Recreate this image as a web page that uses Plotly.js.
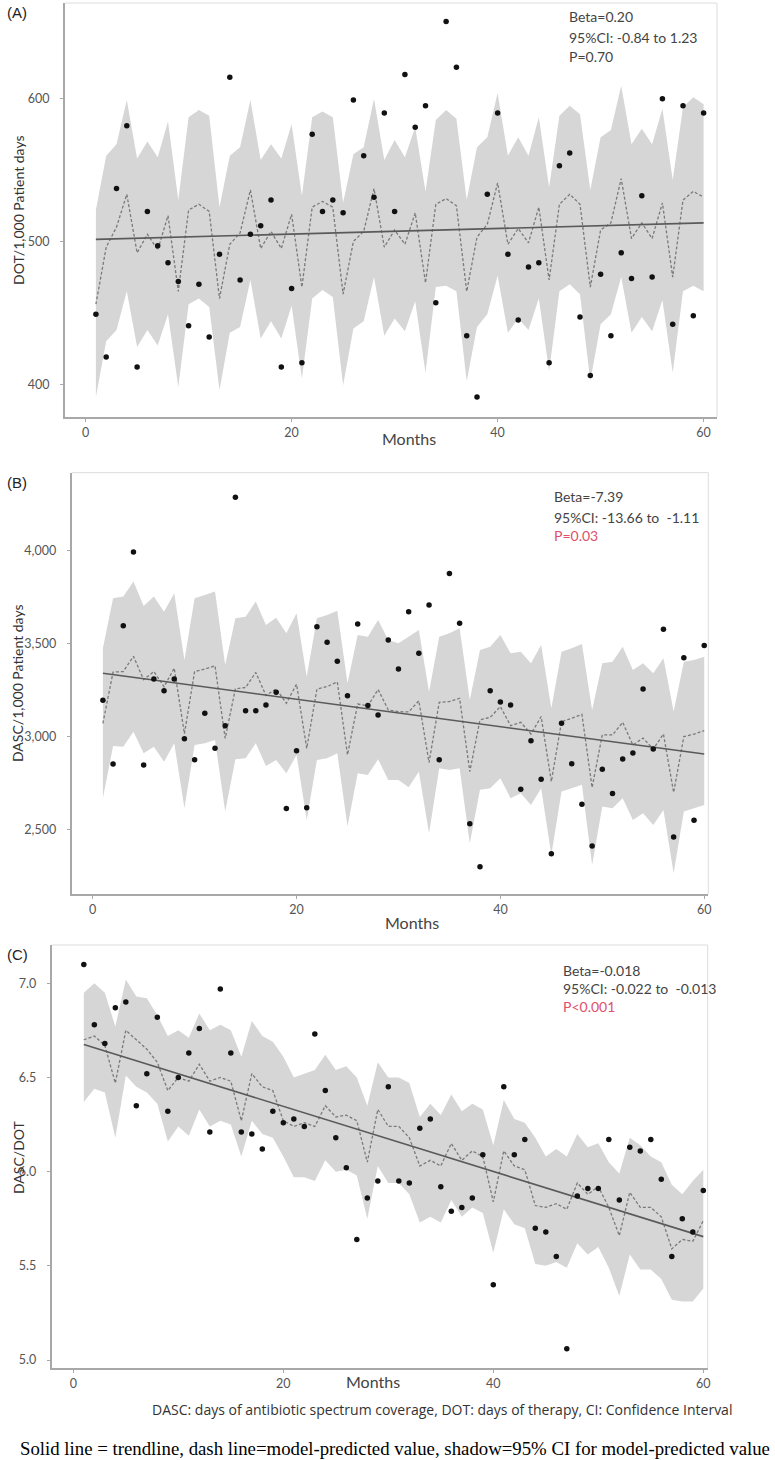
<!DOCTYPE html>
<html><head><meta charset="utf-8">
<script src="https://cdn.plot.ly/plotly-3.0.1.min.js"></script>
<style>html,body{margin:0;padding:0;background:#fff}</style>
</head><body><div id="chart" style="width:775px;height:1460px"></div>
<script>
// ---------- data ----------
const months = [1,2,3,4,5,6,7,8,9,10,11,12,13,14,15,16,17,18,19,20,21,22,23,24,25,26,27,28,29,30,
  31,32,33,34,35,36,37,38,39,40,41,42,43,44,45,46,47,48,49,50,51,52,53,54,55,56,57,58,59,60];
const trendMonths = [1, 60];
const xTicks = [0, 20, 40, 60];

// Panel A: DOT/1,000 patient days
const A_obs = [449,419,537,581,412,521,497,485,472,441,470,433,491,615,473,505,511,529,412,467,
  415,575,521,529,520,599,560,531,590,521,617,580,595,457,654,622,434,391,533,590,
  491,445,482,485,415,553,562,447,406,477,434,492,474,532,475,600,442,595,448,590];
const A_pred = [456,496,510,533,492,505,494,518,465,522,526,521,460,498,506,536,495,507,495,519,
  468,524,528,524,463,500,507,537,496,508,498,520,471,526,530,525,465,503,512,541,
  498,509,499,524,473,526,533,526,468,508,513,544,502,513,502,527,475,529,535,531];
const A_upper = [522,560,568,599,558,570,559,584,529,587,592,588,524,560,566,599,557,568,558,582,
  532,587,591,587,527,561,566,600,557,571,559,580,535,585,592,586,529,566,573,604,
  560,573,560,587,538,588,595,589,536,573,578,609,568,579,568,593,543,594,601,596];
const A_lower = [391,430,438,465,426,438,427,449,398,456,460,454,396,436,440,473,432,444,432,455,
  404,460,466,461,399,439,444,475,434,446,437,458,408,468,469,465,402,440,449,476,
  436,446,438,460,409,465,470,463,402,442,449,475,436,447,437,459,408,465,469,465];
const A_trend = [501.4, 513.0];
const A_yTicks = [400, 500, 600];
const A_yText = ['400', '500', '600'];
const A_stats = ['Beta=0.20', '95%CI: -0.84 to 1.23', 'P=0.70'];

// Panel B: DASC/1,000 patient days
const B_obs = [3195,2852,3597,3995,2846,3310,3247,3310,2987,2875,3125,2936,3058,4290,3139,3139,3170,3238,2611,2923,
  2616,3592,3508,3405,3220,3606,3167,3116,3520,3364,3673,3448,3709,2875,3878,3610,2530,2298,3247,3186,
  3170,2715,2977,2769,2367,3071,2853,2634,2410,2823,2692,2879,2911,3256,2933,3578,2458,3425,2548,3490];
const B_pred = [3071,3347,3350,3432,3306,3350,3268,3368,3015,3350,3363,3381,2990,3257,3264,3345,3221,3257,3179,3282,
  2936,3255,3269,3294,2901,3175,3165,3253,3143,3134,3132,3192,2860,3184,3188,3206,2811,3089,3103,3161,
  3058,3076,3013,3107,2757,3080,3098,3119,2725,3009,3008,3076,2954,2991,2932,3013,2698,2999,3013,3031];
const B_upper = [3475,3745,3754,3835,3703,3754,3673,3772,3412,3745,3763,3781,3385,3637,3646,3727,3601,3640,3556,3664,
  3322,3637,3655,3678,3287,3547,3538,3628,3520,3502,3538,3574,3241,3538,3556,3583,3197,3466,3484,3547,
  3448,3457,3395,3493,3152,3457,3475,3499,3143,3395,3403,3484,3358,3395,3341,3422,3134,3403,3412,3430];
const B_lower = [2667,2949,2945,3026,2909,2945,2864,2963,2613,2954,2963,2981,2595,2877,2882,2963,2841,2873,2802,2900,
  2550,2873,2882,2909,2514,2802,2792,2877,2765,2765,2726,2810,2478,2829,2819,2829,2424,2712,2721,2775,
  2667,2694,2631,2721,2361,2703,2721,2739,2307,2622,2613,2667,2550,2586,2523,2604,2262,2595,2613,2631];
const B_trend = [3341, 2905];
const B_yTicks = [2500, 3000, 3500, 4000];
const B_yText = ['2,500', '3,000', '3,500', '4,000'];
const B_stats = ['Beta=-7.39', '95%CI: -13.66 to  -1.11', 'P=0.03'];

// Panel C: DASC/DOT
const C_obs = [7.10,6.78,6.68,6.87,6.90,6.35,6.52,6.82,6.32,6.50,6.63,6.76,6.21,6.97,6.63,6.21,6.20,6.12,6.32,6.26,
  6.28,6.24,6.73,6.43,6.18,6.02,5.64,5.86,5.95,6.45,5.95,5.94,6.23,6.28,5.92,5.79,5.81,5.86,6.09,5.40,
  6.45,6.09,6.17,5.70,5.68,5.55,5.06,5.87,5.91,5.91,6.17,5.85,6.13,6.11,6.17,5.96,5.55,5.75,5.68,5.90];
const C_pred = [6.70,6.72,6.67,6.47,6.75,6.70,6.65,6.58,6.43,6.50,6.48,6.57,6.48,6.50,6.48,6.27,6.52,6.45,6.43,6.27,
  6.24,6.26,6.24,6.35,6.29,6.30,6.27,6.05,6.33,6.24,6.24,6.18,6.03,6.06,6.03,6.15,6.06,6.11,6.08,5.84,
  6.11,6.03,6.01,5.82,5.81,5.83,5.80,5.94,5.88,5.92,5.81,5.66,5.89,5.81,5.81,5.76,5.59,5.64,5.63,5.74];
const C_upper = [6.95,7.00,6.95,6.77,7.02,6.93,6.92,6.83,6.72,6.75,6.71,6.84,6.75,6.78,6.75,6.61,6.80,6.72,6.69,6.61,
  6.50,6.52,6.54,6.62,6.54,6.56,6.50,6.35,6.58,6.50,6.50,6.47,6.29,6.36,6.30,6.41,6.32,6.36,6.33,6.14,
  6.38,6.28,6.26,6.18,6.08,6.12,6.08,6.20,6.13,6.15,6.05,5.99,6.18,6.14,6.08,6.05,5.93,5.88,5.95,6.01];
const C_lower = [6.37,6.44,6.42,6.18,6.51,6.45,6.42,6.36,6.16,6.24,6.19,6.33,6.24,6.27,6.25,6.08,6.27,6.20,6.18,6.08,
  5.97,5.97,5.95,6.06,6.00,6.01,5.98,5.75,6.03,5.94,5.94,5.88,5.73,5.76,5.73,5.85,5.76,5.81,5.78,5.57,
  5.80,5.72,5.70,5.51,5.50,5.52,5.49,5.62,5.56,5.60,5.49,5.34,5.56,5.48,5.48,5.43,5.32,5.31,5.31,5.38];
const C_trend = [6.675, 5.655];
const C_yTicks = [5.0, 5.5, 6.0, 6.5, 7.0];
const C_yText = ['5.0', '5.5', '6.0', '6.5', '7.0'];
const C_stats = ['Beta=-0.018', '95%CI: -0.022 to  -0.013', 'P<0.001'];

const panelLabels = ['(A)', '(B)', '(C)'];
const yTitles = ['DOT/1,000 Patient days', 'DASC/1,000 Patient days', 'DASC/DOT'];
const xTitle = 'Months';
const footnote1 = 'DASC: days of antibiotic spectrum coverage, DOT: days of therapy, CI: Confidence Interval';
const footnote2 = 'Solid line = trendline, dash line=model-predicted value, shadow=95% CI for model-predicted value';

// ---------- geometry (pixels) ----------
const W = 775, H = 1460;
const px = v => v / W, py = v => 1 - v / H;
const panels = [
  {obs:A_obs, pred:A_pred, up:A_upper, lo:A_lower, trend:A_trend, yt:A_yTicks, ytx:A_yText, stats:A_stats,
   box:[65,3,717,417], xr:[-2.0,61.3], yr:[377,667], label:[5,13], ytitle:[18,210], months:[409,438],
   statPos:[567,[17,37,57]], redLast:false},
  {obs:B_obs, pred:B_pred, up:B_upper, lo:B_lower, trend:B_trend, yt:B_yTicks, ytx:B_yText, stats:B_stats,
   box:[71.7,472.7,708.3,894.3], xr:[-2.06,60.4], yr:[2149,4422], label:[5,482], ytitle:[18,683], months:[412,922],
   statPos:[552,[497,517,535]], redLast:true},
  {obs:C_obs, pred:C_pred, up:C_upper, lo:C_lower, trend:C_trend, yt:C_yTicks, ytx:C_yText, stats:C_stats,
   box:[51.7,945,707.7,1368.3], xr:[-2.06,60.42], yr:[4.956,7.203], label:[5,954], ytitle:[18,1157], months:[373,1381],
   statPos:[561,[970,988,1006]], redLast:true}
];

const traces = [], shapes = [], annotations = [];
const layout = {
  width: W, height: H, margin:{l:0,r:0,t:0,b:0}, showlegend:false,
  paper_bgcolor:'#fff', plot_bgcolor:'#fff',
  font:{family:'Lato, "Open Sans", sans-serif', color:'#555', size:12}
};

panels.forEach((p, i) => {
  const n = i === 0 ? '' : String(i + 1);
  const xa = 'x' + n, ya = 'y' + n;
  const [x0, y0, x1, y1] = p.box;
  layout['xaxis' + n] = {
    domain:[px(x0), px(x1)], range:p.xr, anchor:ya, tickvals:xTicks,
    showgrid:false, zeroline:false, showline:true, linecolor:'#a8a8a8', linewidth:2,
    ticks:'outside', ticklen:3, tickcolor:'#a8a8a8', ticklabelstandoff:0,
    tickfont:{size:12.5, color:'#555', family:'Lato, sans-serif'}, fixedrange:true
  };
  layout['yaxis' + n] = {
    domain:[py(y1), py(y0)], range:p.yr, anchor:xa, tickvals:p.yt, ticktext:p.ytx,
    showgrid:false, zeroline:false, showline:true, linecolor:'#a8a8a8', linewidth:2,
    ticks:'outside', ticklen:3, tickcolor:'#a8a8a8', ticklabelstandoff:8,
    tickfont:{size:12.5, color:'#555', family:'Lato, sans-serif'}, fixedrange:true
  };
  // band
  traces.push({x:months, y:p.lo, xaxis:xa, yaxis:ya, mode:'lines', line:{width:0, color:'rgba(0,0,0,0)'}, hoverinfo:'skip'});
  traces.push({x:months, y:p.up, xaxis:xa, yaxis:ya, mode:'lines', line:{width:0, color:'rgba(0,0,0,0)'},
    fill:'tonexty', fillcolor:'#d6d6d6', hoverinfo:'skip'});
  // model-predicted
  traces.push({x:months, y:p.pred, xaxis:xa, yaxis:ya, mode:'lines', line:{color:'#7a7a7a', width:1.3, dash:'3px,2px'}});
  // trend
  traces.push({x:trendMonths, y:p.trend, xaxis:xa, yaxis:ya, mode:'lines', line:{color:'#5a5a5a', width:1.6}});
  // observed
  traces.push({x:months, y:p.obs, xaxis:xa, yaxis:ya, mode:'markers', marker:{color:'#111', size:5.5}});
  // top/right borders
  shapes.push({type:'line', xref:'paper', yref:'paper', x0:px(x0), x1:px(x1), y0:py(y0), y1:py(y0), line:{color:'#dcdcdc', width:1}});
  shapes.push({type:'line', xref:'paper', yref:'paper', x0:px(x1), x1:px(x1), y0:py(y0), y1:py(y1), line:{color:'#dcdcdc', width:1}});
  // texts
  annotations.push({text:panelLabels[i], xref:'paper', yref:'paper', x:px(p.label[0]), y:py(p.label[1]),
    xanchor:'left', yanchor:'middle', showarrow:false, font:{family:'Liberation Sans, Arial, sans-serif', size:15, color:'#222'}});
  annotations.push({text:yTitles[i], xref:'paper', yref:'paper', x:px(p.ytitle[0]), y:py(p.ytitle[1]), textangle:-90,
    xanchor:'center', yanchor:'middle', showarrow:false, font:{family:'Lato, sans-serif', size:14, color:'#333'}});
  annotations.push({text:xTitle, xref:'paper', yref:'paper', x:px(p.months[0]), y:py(p.months[1]),
    xanchor:'center', yanchor:'middle', showarrow:false, font:{family:'Lato, sans-serif', size:16, color:'#444'}});
  p.stats.forEach((s, k) => {
    const red = p.redLast && k === 2;
    annotations.push({text:s, xref:'paper', yref:'paper', x:px(p.statPos[0]), y:py(p.statPos[1][k]),
      xanchor:'left', yanchor:'middle', showarrow:false,
      font:{family:'Lato, sans-serif', size:14, color: red ? '#e0506a' : '#444'}});
  });
});

annotations.push({text:footnote1, xref:'paper', yref:'paper', x:px(442), y:py(1409), xanchor:'center', yanchor:'middle',
  showarrow:false, font:{family:'"Open Sans", sans-serif', size:14, color:'#333'}});
annotations.push({text:footnote2, xref:'paper', yref:'paper', x:px(395), y:py(1448), xanchor:'center', yanchor:'middle',
  showarrow:false, font:{family:'Liberation Serif, serif', size:18.8, color:'#000'}});

layout.shapes = shapes;
layout.annotations = annotations;
Plotly.newPlot('chart', traces, layout, {displayModeBar:false, staticPlot:true});
</script>
</body></html>
